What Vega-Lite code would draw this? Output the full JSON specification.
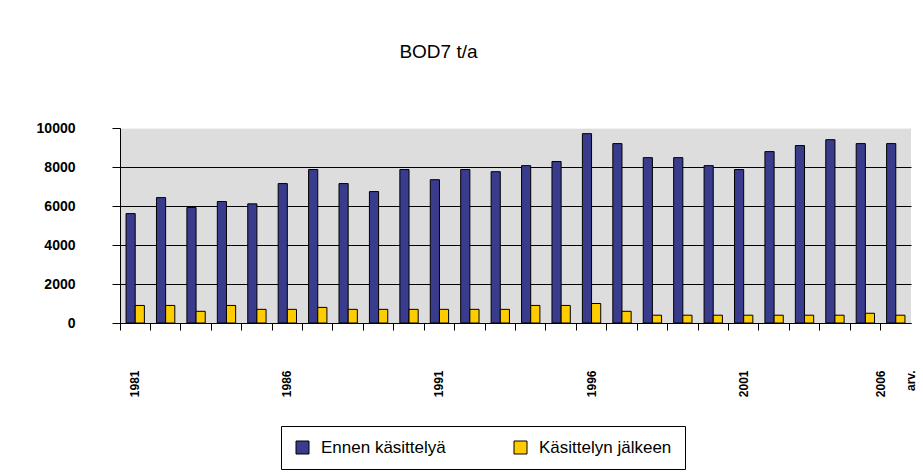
{
  "$schema": "https://vega.github.io/schema/vega-lite/v6.json",
  "autosize": "none",
  "width": 791,
  "height": 195,
  "padding": {"left": 120, "top": 128, "right": 12, "bottom": 150},
  "background": "white",
  "title": {
    "text": "BOD7 t/a",
    "font": "Liberation Sans, Arial, sans-serif",
    "fontSize": 19,
    "fontWeight": "normal",
    "color": "black",
    "anchor": "middle",
    "dx": -77,
    "offset": 59
  },
  "data": {
    "values": [
      {"year": "1981", "series": "Ennen käsittelyä", "value": 5610},
      {"year": "1982", "series": "Ennen käsittelyä", "value": 6430},
      {"year": "1983", "series": "Ennen käsittelyä", "value": 5920},
      {"year": "1984", "series": "Ennen käsittelyä", "value": 6230},
      {"year": "1985", "series": "Ennen käsittelyä", "value": 6110},
      {"year": "1986", "series": "Ennen käsittelyä", "value": 7150},
      {"year": "1987", "series": "Ennen käsittelyä", "value": 7870},
      {"year": "1988", "series": "Ennen käsittelyä", "value": 7150},
      {"year": "1989", "series": "Ennen käsittelyä", "value": 6740},
      {"year": "1990", "series": "Ennen käsittelyä", "value": 7870},
      {"year": "1991", "series": "Ennen käsittelyä", "value": 7350},
      {"year": "1992", "series": "Ennen käsittelyä", "value": 7870},
      {"year": "1993", "series": "Ennen käsittelyä", "value": 7760},
      {"year": "1994", "series": "Ennen käsittelyä", "value": 8070},
      {"year": "1995", "series": "Ennen käsittelyä", "value": 8280},
      {"year": "1996", "series": "Ennen käsittelyä", "value": 9710},
      {"year": "1997", "series": "Ennen käsittelyä", "value": 9200},
      {"year": "1998", "series": "Ennen käsittelyä", "value": 8480},
      {"year": "1999", "series": "Ennen käsittelyä", "value": 8480},
      {"year": "2000", "series": "Ennen käsittelyä", "value": 8070},
      {"year": "2001", "series": "Ennen käsittelyä", "value": 7870},
      {"year": "2002", "series": "Ennen käsittelyä", "value": 8790},
      {"year": "2003", "series": "Ennen käsittelyä", "value": 9100},
      {"year": "2004", "series": "Ennen käsittelyä", "value": 9400},
      {"year": "2005", "series": "Ennen käsittelyä", "value": 9200},
      {"year": "2006 arv.", "series": "Ennen käsittelyä", "value": 9200},
      {"year": "1981", "series": "Käsittelyn jälkeen", "value": 900},
      {"year": "1982", "series": "Käsittelyn jälkeen", "value": 900},
      {"year": "1983", "series": "Käsittelyn jälkeen", "value": 600},
      {"year": "1984", "series": "Käsittelyn jälkeen", "value": 900},
      {"year": "1985", "series": "Käsittelyn jälkeen", "value": 700},
      {"year": "1986", "series": "Käsittelyn jälkeen", "value": 700},
      {"year": "1987", "series": "Käsittelyn jälkeen", "value": 800},
      {"year": "1988", "series": "Käsittelyn jälkeen", "value": 700},
      {"year": "1989", "series": "Käsittelyn jälkeen", "value": 700},
      {"year": "1990", "series": "Käsittelyn jälkeen", "value": 700},
      {"year": "1991", "series": "Käsittelyn jälkeen", "value": 700},
      {"year": "1992", "series": "Käsittelyn jälkeen", "value": 700},
      {"year": "1993", "series": "Käsittelyn jälkeen", "value": 700},
      {"year": "1994", "series": "Käsittelyn jälkeen", "value": 900},
      {"year": "1995", "series": "Käsittelyn jälkeen", "value": 900},
      {"year": "1996", "series": "Käsittelyn jälkeen", "value": 1000},
      {"year": "1997", "series": "Käsittelyn jälkeen", "value": 600},
      {"year": "1998", "series": "Käsittelyn jälkeen", "value": 400},
      {"year": "1999", "series": "Käsittelyn jälkeen", "value": 400},
      {"year": "2000", "series": "Käsittelyn jälkeen", "value": 400},
      {"year": "2001", "series": "Käsittelyn jälkeen", "value": 400},
      {"year": "2002", "series": "Käsittelyn jälkeen", "value": 400},
      {"year": "2003", "series": "Käsittelyn jälkeen", "value": 400},
      {"year": "2004", "series": "Käsittelyn jälkeen", "value": 400},
      {"year": "2005", "series": "Käsittelyn jälkeen", "value": 500},
      {"year": "2006 arv.", "series": "Käsittelyn jälkeen", "value": 400}
    ]
  },
  "mark": {"type": "bar", "stroke": "black", "strokeWidth": 1},
  "encoding": {
    "x": {
      "field": "year",
      "type": "nominal",
      "sort": null,
      "scale": {"paddingInner": 0, "paddingOuter": 0},
      "axis": {
        "title": null,
        "domainColor": "black",
        "domainWidth": 1,
        "ticks": true,
        "bandPosition": 0,
        "tickColor": "black",
        "tickWidth": 1,
        "tickOpacity": 1,
        "tickSize": 7,
        "labelAngle": 270,
        "labelAlign": "right",
        "labelBaseline": "middle",
        "labelPadding": 40,
        "labelOffset": {"condition": {"test": "datum.value == '2006 arv.'", "value": -15}, "value": 0},
        "labelOverlap": false,
        "labelFont": "Liberation Sans, Arial, sans-serif",
        "labelFontSize": 12,
        "labelFontWeight": "bold",
        "labelColor": "black",
        "labelLineHeight": 30,
        "labelExpr": "indexof(['1981','1986','1991','1996','2001'], datum.value) >= 0 ? datum.value : (datum.value == '2006 arv.' ? ['2006', 'arv.'] : '')"
      }
    },
    "xOffset": {
      "field": "series",
      "type": "nominal",
      "sort": ["Ennen käsittelyä", "Käsittelyn jälkeen"],
      "scale": {"paddingInner": 0, "paddingOuter": 0.66}
    },
    "y": {
      "field": "value",
      "type": "quantitative",
      "scale": {"domain": [0, 10000], "nice": false},
      "axis": {
        "title": null,
        "values": [0, 2000, 4000, 6000, 8000, 10000],
        "format": "d",
        "domainColor": "black",
        "tickColor": "black",
        "tickSize": 8,
        "labelPadding": 37,
        "labelFont": "Liberation Sans, Arial, sans-serif",
        "labelFontSize": 14,
        "labelFontWeight": "bold",
        "labelColor": "black",
        "grid": true,
        "gridColor": {"condition": {"test": "datum.value == 10000", "value": "#f2f2f2"}, "value": "black"},
        "gridWidth": 1,
        "gridOpacity": 1
      }
    },
    "color": {
      "field": "series",
      "type": "nominal",
      "scale": {"domain": ["Ennen käsittelyä", "Käsittelyn jälkeen"], "range": ["#393B8D", "#FFCC00"]},
      "legend": {
        "title": null,
        "orient": "none",
        "legendX": 161,
        "legendY": 298,
        "direction": "horizontal",
        "columns": 2,
        "gridAlign": "each",
        "columnPadding": 66,
        "padding": 13,
        "strokeColor": "black",
        "fillColor": "white",
        "symbolType": "square",
        "symbolSize": 169,
        "symbolStrokeColor": "black",
        "symbolStrokeWidth": 1,
        "symbolOpacity": 1,
        "labelOffset": 10,
        "labelLimit": 400,
        "labelFont": "Liberation Sans, Arial, sans-serif",
        "labelFontSize": 17,
        "labelColor": "black"
      }
    }
  },
  "config": {
    "view": {"fill": "#DDDDDD", "stroke": null},
    "axis": {"domainWidth": 1, "tickWidth": 1}
  }
}
